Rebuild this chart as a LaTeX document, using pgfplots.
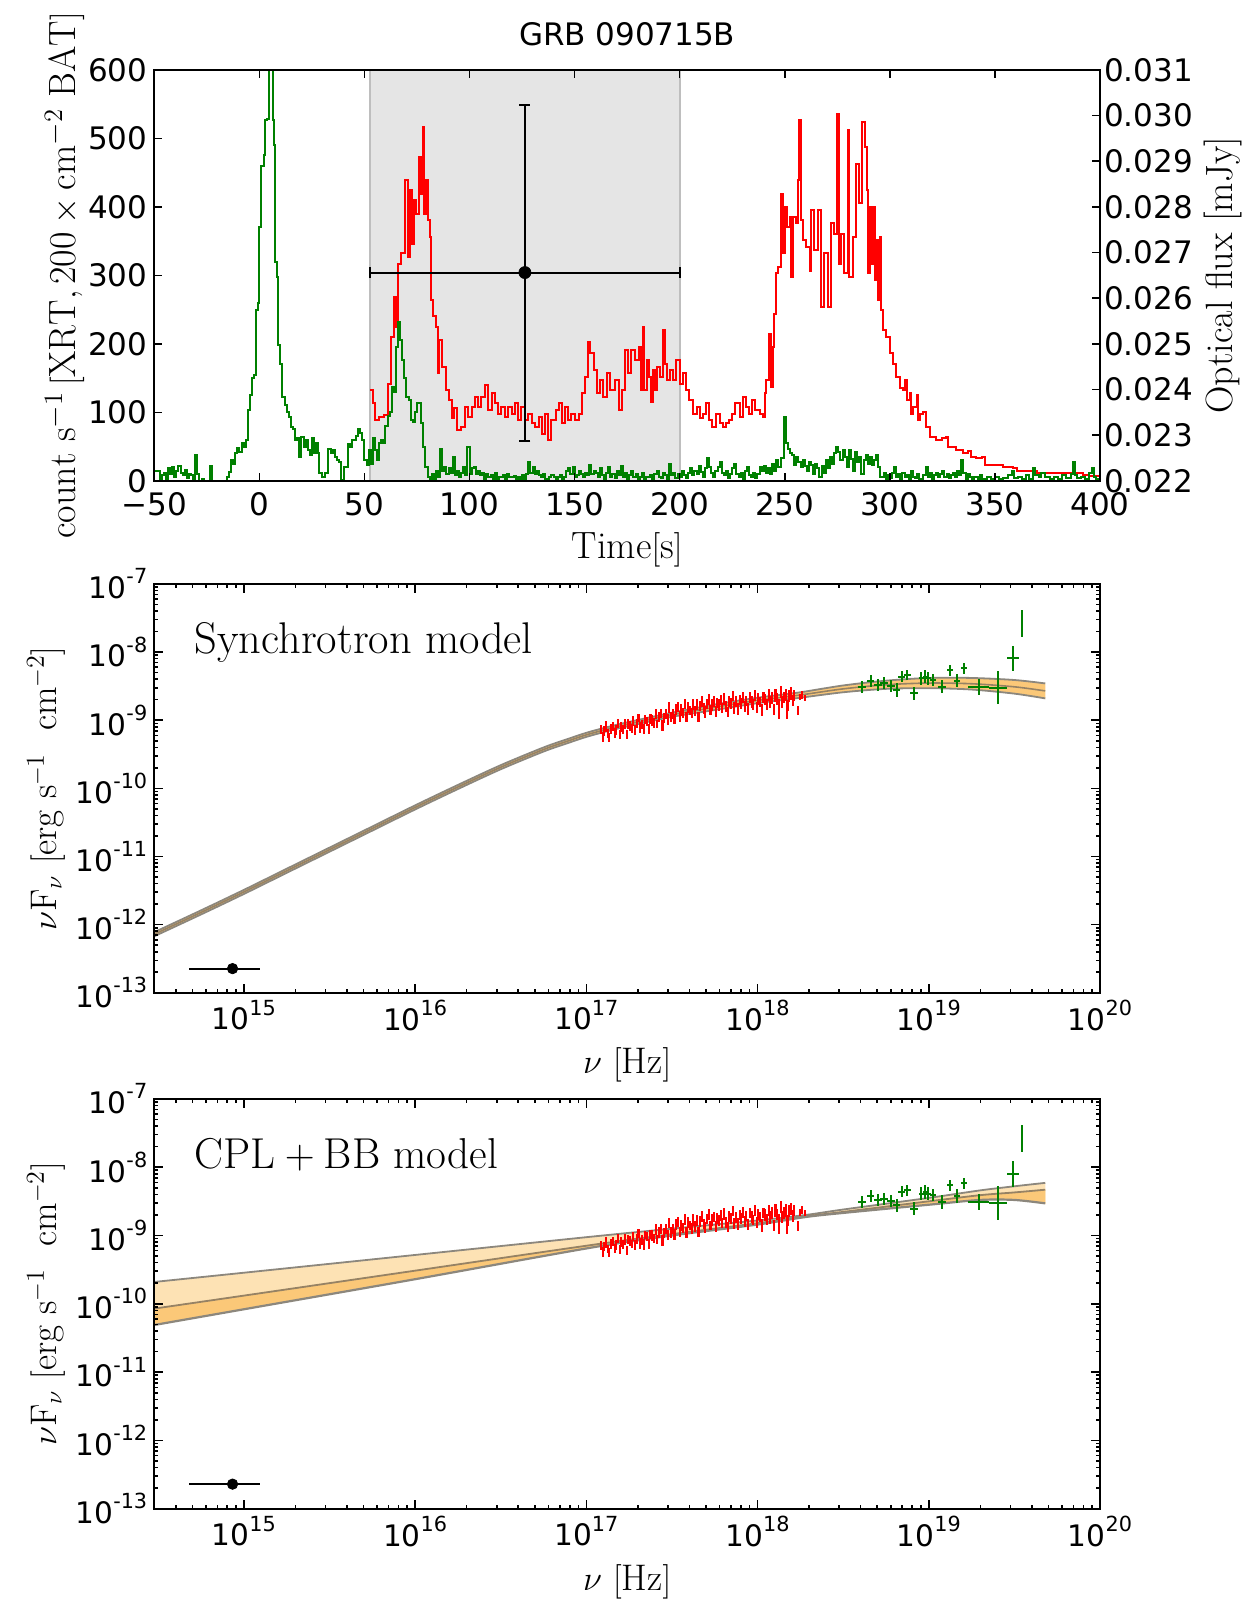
\documentclass[border=0pt]{standalone}
\usepackage{fontspec}
\usepackage{pgfplots}
\usepackage{pgfplotstable}
\pgfplotsset{compat=1.18}

\newfontfamily\dejavu{DejaVu Sans}
\definecolor{batgreen}{rgb}{0,0.5,0}
\definecolor{bandfill}{RGB}{251,200,120}
\definecolor{bandlight}{RGB}{253,226,180}
\definecolor{bandedge}{RGB}{140,135,125}
\definecolor{medline}{RGB}{150,130,100}
\definecolor{shade}{RGB}{229,229,229}
\definecolor{shadeedge}{RGB}{190,190,190}

\newcommand\tickfont{\dejavu\fontsize{15.5}{18}\selectfont}
\newcommand\sedtickfont{\dejavu\fontsize{14.8}{17}\selectfont}
\newcommand\labfont{\fontsize{19}{22}\selectfont}
\newcommand\sedlabfont{\fontsize{18.5}{22}\selectfont}
\newcommand\tp[1]{10\raisebox{0.5em}{\fontsize{10.4}{12}\selectfont #1}}

% ---------------- light curves ----------------
\pgfplotstableread{
t v
-50 15
-48.5 14
-47.5 0
-46.5 8
-45.5 12
-44.5 3
-43.5 18
-42.5 10
-41.5 20
-40.5 6
-39.5 14
-38.5 22
-37.5 12
-36.5 9
-35.5 16
-34.5 4
-33.5 10
-32.5 8
-31.5 0
-30.5 38
-29.5 10
-28.5 0
-27.5 2
-26.5 0
-23.5 21
-22.5 0
-15.5 5
-14.5 13
-13.5 30
-12.5 25
-11.5 40
-10.5 48
-9.5 42
-8.5 55
-7.5 50
-6.5 60
-5.5 103
-4.5 125
-3.5 150
-2.5 155
-1.5 250
-0.5 260
0 370
1 460
2 475
2.5 527
3.5 528
4.5 640
5.5 620
6.5 527
7 490
7.5 320
8.5 298
9 198
10 171
11 123
12 110
13 100
14 93
15 79
16 75
17 59
18 62
19 35
20 64
21 50
22 60
23 45
24 38
25 62
26 40
27 55
28 40
28.5 11
30 6
31 12
32.5 47
34 40
35 45
36 35
37 30
38 28
39 1
40.5 20
42 54
43 50
44 59
45 60
46 65
47 76
48 70
49 60
50 30
51 23
52 45
53 25
54 62
55 45
56 30
57 55
58 60
59 55
60 80
61 95
62 100
63 137
64 130
65 195
66 232
67 205
68 176
69 150
70 123
71 118
72 89
73 86
74 100
75 113
76 113
77 84
78 50
79 20
80 6
81 0
82 10
83 0
84 15
85 5
86 47
87 15
88 20
89 10
90 18
91 12
92 35
93 8
94 15
95 5
96 12
97 20
98 8
99 50
100 10
101 18
102 20
103 10
104 15
105 8
106 12
107 3
108 10
109 5
110 8
111 3
112 11
113 0
114 5
116 8
117 3
118 10
119 5
121 7
122 0
123 5
124 3
125 8
126 2
127 10
128 28
129 12
130 20
131 10
132 15
133 8
134 5
135 10
136 3
138 6
139 8
140 5
141 2
142 5
143 8
144 3
145 6
146 15
147 18
148 10
149 20
150 5
151 8
152 15
153 10
154 5
155 12
156 8
157 23
158 10
159 15
160 12
161 5
162 18
163 8
164 3
165 12
166 20
167 6
168 10
169 4
170 15
171 8
172 22
173 6
174 12
175 3
176 8
177 14
178 5
179 10
180 3
181 6
182 12
183 2
184 5
186 8
187 3
188 10
189 15
190 6
191 4
192 12
193 8
194 3
195 25
196 8
197 12
198 4
199 10
200 6
201 14
202 9
203 4
204 12
205 18
206 8
207 15
208 10
209 22
210 13
211 5
212 18
213 33
214 20
215 12
216 6
217 15
218 20
219 28
220 12
221 8
222 15
223 4
224 10
225 18
226 25
227 10
228 5
229 12
230 3
231 15
232 20
233 8
234 5
235 12
236 4
237 10
238 20
239 15
240 22
241 12
242 18
243 10
244 24
245 15
246 30
247 20
248 33
249.5 93
250.5 55
251.5 47
252.5 40
253.5 37
254.5 23
255.5 35
256.5 28
257.5 20
258.5 30
259.5 22
260.5 15
261.5 28
262.5 23
263.5 10
264.5 25
265.5 18
266.5 5
267.5 22
268.5 12
269.5 30
270.5 18
271.5 35
272.5 25
273.5 40
274.5 50
275.5 42
276.5 30
277.5 45
278.5 35
279.5 20
280.5 45
281.5 32
282.5 15
283.5 42
284.5 28
285.5 35
286.5 10
287.5 30
288.5 37
289.5 25
290.5 35
291.5 23
292.5 30
293.5 37
294.5 20
295.5 6
297 12
298 3
299 8
300 4
301 12
302 20
303 6
304 10
305 2
306 12
307 5
308 9
309 3
310 15
311 6
312 4
313 10
314 2
316 8
317 20
318 5
319 12
320 3
321 8
322 12
323 5
324 10
325 14
326 6
327 10
328 4
329 8
330 12
331 5
332 15
333 8
334 30
335 12
336 3
337 10
338 6
339 2
340 5
342 3
343 8
344 2
346 5
348 2
350 6
352 3
354 4
356 8
358 15
359 4
361 6
363 2
365 8
366 3
368 18
369 8
371 5
372 12
374 6
376 2
378 5
380 3
382 8
384 4
386 10
387 28
388 8
389 4
391 6
393 3
395 12
396 18
397 5
398 2
400 2
}\batlc

\pgfplotstableread{
t v
52.7 132
54 113
55 89
57 93
59.5 96
61 142
62.5 210
64 269
65 225
66 317
67.5 332
69.5 439
70.5 327
71.5 424
72.5 346
73.5 410
74.5 390
76 473
77 419
77.8 517
78.5 390
79.2 439
80 381
81 356
81.8 264
82.5 240
84 225
85 157
85.7 205
87 166
88.7 132
90.3 118
91.5 91
92.5 106
94 74
96 79
98 108
99.5 93
101 108
102.5 123
104 108
105.5 123
107.5 140
109 103
110.5 128
112 113
113.5 98
115 108
117 93
118.5 108
120 98
121.5 113
123 89
124.5 108
126.5 89
128 98
129.5 84
131 79
133 93
134.5 69
136 98
137.5 59
139 89
141 103
142.5 113
144 84
145.5 108
147 89
148.5 98
150 89
152 98
153.5 128
155 152
156.5 203
157.5 186
159 162
160.5 128
162 147
163.5 123
165.5 157
167 132
169 147
171 103
172.5 132
174 191
175.5 157
177 191
178.5 176
180.5 196
181.7 132
182.5 225
183.2 132
184.5 176
185.5 152
186.5 115
187.5 162
188.3 132
189.3 166
190.5 152
192 220
192.8 171
193.8 147
195.3 162
196.8 147
198.3 176
200 142
201.5 157
203 132
204.5 118
206.5 98
208 108
209.5 91
211 98
212.5 113
214 89
215.5 79
217.5 98
219 84
220.5 79
222 84
223.5 89
225 98
226.5 113
228.5 93
230 123
231.5 108
233 98
234.5 118
236 103
238 98
239.5 93
240.5 128
241.2 147
242.5 215
243.5 137
244.5 196
245 244
246 303
247 312
248.3 419
249 332
250 400
251 371
252.3 385
253.2 298
254 385
255.5 376
256.3 439
257 527
257.8 381
258.6 351
260 342
261.8 307
262.6 395
264 337
265.8 395
267.3 254
268.5 332
270.5 254
272 376
273.5 361
274.8 536
275.6 317
276.6 361
278.4 303
280 512
280.7 298
282.4 356
284 463
285.5 405
286.8 524
288 488
289 424
289.6 303
290.4 400
291.2 317
292 400
292.8 293
293.5 351
294.3 264
295.2 356
296 250
296.8 220
298.4 210
300 186
301.5 171
303 152
304.8 135
306.3 132
307 147
308 118
309.5 128
310.3 98
311.2 108
312.7 125
313.5 89
314.3 98
316 101
317.4 79
319 64
322 59
325 62
326.8 64
327.8 50
331.5 45
334.7 40
337.2 43
338.8 35
341 33
344 35
345.2 23
354 20
358.7 19
360.3 15
369.8 12
376 11
392 8
395 7
400 7
}\xrtlc

% ---------------- spectra (log10 nu, log10 nuFnu) ----------------
\pgfplotstableread{
lx ly ey ex
17.085 -9.142 0.065 0.004
17.095 -9.242 0.075 0.004
17.105 -9.162 0.070 0.004
17.115 -9.097 0.080 0.004
17.125 -9.197 0.065 0.004
17.135 -9.251 0.070 0.004
17.145 -9.126 0.075 0.004
17.155 -9.091 0.065 0.004
17.165 -9.191 0.070 0.004
17.175 -9.141 0.075 0.004
17.185 -9.046 0.070 0.004
17.195 -9.205 0.065 0.004
17.205 -9.095 0.075 0.004
17.215 -9.135 0.070 0.004
17.225 -9.055 0.080 0.004
17.235 -9.215 0.065 0.004
17.245 -9.059 0.070 0.004
17.255 -9.084 0.075 0.004
17.265 -9.124 0.065 0.004
17.275 -9.014 0.070 0.004
17.285 -9.144 0.075 0.004
17.295 -9.049 0.070 0.004
17.305 -8.968 0.065 0.004
17.315 -9.113 0.080 0.004
17.325 -9.063 0.070 0.004
17.335 -9.133 0.075 0.004
17.345 -8.993 0.065 0.004
17.355 -9.016 0.070 0.004
17.365 -9.127 0.075 0.004
17.375 -8.984 0.070 0.004
17.385 -9.006 0.080 0.004
17.395 -9.042 0.070 0.004
17.405 -8.914 0.075 0.004
17.415 -9.055 0.065 0.004
17.425 -8.957 0.075 0.004
17.435 -8.904 0.070 0.004
17.445 -9.075 0.080 0.004
17.455 -8.962 0.075 0.004
17.465 -8.908 0.070 0.004
17.475 -8.990 0.075 0.004
17.485 -8.817 0.080 0.004
17.495 -8.958 0.075 0.004
17.505 -8.905 0.070 0.004
17.515 -8.986 0.075 0.004
17.525 -8.843 0.080 0.004
17.535 -8.804 0.070 0.004
17.545 -8.947 0.075 0.004
17.555 -8.852 0.085 0.004
17.565 -8.892 0.070 0.004
17.575 -8.767 0.075 0.004
17.585 -8.956 0.075 0.004
17.595 -8.816 0.080 0.004
17.605 -8.856 0.070 0.004
17.615 -8.896 0.075 0.004
17.625 -8.770 0.085 0.004
17.635 -8.870 0.075 0.004
17.645 -8.775 0.080 0.004
17.655 -8.949 0.070 0.004
17.665 -8.794 0.075 0.004
17.675 -8.729 0.080 0.004
17.685 -8.829 0.075 0.004
17.695 -8.883 0.085 0.004
17.705 -8.758 0.075 0.004
17.715 -8.693 0.080 0.004
17.725 -8.853 0.070 0.004
17.735 -8.774 0.085 0.004
17.745 -8.727 0.075 0.004
17.755 -8.875 0.080 0.004
17.765 -8.753 0.075 0.004
17.775 -8.781 0.085 0.004
17.785 -8.704 0.080 0.004
17.795 -8.822 0.075 0.004
17.805 -8.685 0.085 0.004
17.815 -8.804 0.080 0.004
17.825 -8.877 0.075 0.004
17.835 -8.725 0.085 0.004
17.845 -8.753 0.080 0.004
17.855 -8.646 0.075 0.004
17.865 -8.824 0.085 0.004
17.875 -8.732 0.080 0.004
17.885 -8.835 0.085 0.004
17.895 -8.698 0.075 0.004
17.905 -8.756 0.080 0.004
17.915 -8.664 0.085 0.004
17.925 -8.797 0.080 0.004
17.935 -8.720 0.075 0.004
17.945 -8.838 0.085 0.004
17.955 -8.671 0.080 0.004
17.965 -8.729 0.090 0.004
17.975 -8.773 0.080 0.004
17.985 -8.636 0.085 0.004
17.995 -8.814 0.080 0.004
18.005 -8.692 0.085 0.004
18.015 -8.735 0.075 0.004
18.025 -8.853 0.090 0.004
18.035 -8.671 0.080 0.004
18.045 -8.699 0.085 0.004
18.055 -8.771 0.080 0.004
18.065 -8.633 0.085 0.004
18.075 -8.735 0.090 0.004
18.085 -8.672 0.085 0.004
18.095 -8.849 0.080 0.004
18.105 -8.636 0.090 0.004
18.115 -8.693 0.085 0.004
18.125 -8.765 0.080 0.004
18.135 -8.582 0.090 0.004
18.145 -8.730 0.085 0.004
18.155 -8.667 0.085 0.004
18.165 -8.634 0.090 0.004
18.175 -8.781 0.080 0.004
18.185 -8.643 0.085 0.004
18.195 -8.610 0.090 0.004
18.205 -8.712 0.085 0.004
18.215 -8.640 0.080 0.005
18.127 -8.910 0.070 0.005
18.170 -8.920 0.065 0.005
18.235 -8.860 0.070 0.006
18.250 -8.660 0.050 0.006
18.262 -8.630 0.060 0.006
18.277 -8.670 0.045 0.008
}\xrtsed

\pgfplotstableread{
lx ly ex ey
18.609 -8.508 0.023 0.088
18.660 -8.420 0.023 0.088
18.701 -8.484 0.023 0.088
18.740 -8.459 0.023 0.088
18.779 -8.498 0.023 0.088
18.812 -8.557 0.020 0.098
18.843 -8.361 0.020 0.080
18.874 -8.337 0.020 0.080
18.913 -8.606 0.025 0.100
18.956 -8.386 0.015 0.100
18.979 -8.361 0.015 0.100
18.998 -8.386 0.015 0.100
19.025 -8.410 0.018 0.090
19.078 -8.508 0.025 0.100
19.123 -8.264 0.018 0.080
19.165 -8.420 0.018 0.100
19.208 -8.239 0.018 0.080
19.291 -8.508 0.062 0.120
19.404 -8.523 0.050 0.245
19.491 -8.094 0.036 0.190
19.546 -7.580 0.004 0.200
}\batsed

% synchrotron model: lower, median and upper curves
\pgfplotstableread{
lx lo mid hi
14.477 -12.17 -12.14 -12.11
14.75 -11.85 -11.82 -11.79
15.0 -11.55 -11.52 -11.49
15.25 -11.24 -11.21 -11.18
15.5 -10.93 -10.90 -10.87
15.75 -10.62 -10.59 -10.56
16.0 -10.31 -10.28 -10.25
16.25 -10.01 -9.98 -9.95
16.5 -9.72 -9.69 -9.66
16.75 -9.46 -9.43 -9.40
16.875 -9.35 -9.32 -9.29
17.0 -9.245 -9.215 -9.185
17.125 -9.16 -9.13 -9.10
17.25 -9.085 -9.055 -9.025
17.5 -8.95 -8.92 -8.89
17.75 -8.85 -8.81 -8.77
18.0 -8.75 -8.71 -8.67
18.25 -8.67 -8.63 -8.59
18.5 -8.59 -8.54 -8.49
18.75 -8.54 -8.48 -8.42
19.0 -8.53 -8.455 -8.38
19.25 -8.55 -8.465 -8.38
19.5 -8.61 -8.51 -8.41
19.68 -8.68 -8.57 -8.46
}\syncband

% outline of the synchrotron band (upper edge out, lower edge back)
\pgfplotstableread{
lx ly
14.477 -12.11
14.75 -11.79
15.0 -11.49
15.25 -11.18
15.5 -10.87
15.75 -10.56
16.0 -10.25
16.25 -9.95
16.5 -9.66
16.75 -9.40
16.875 -9.29
17.0 -9.185
17.125 -9.10
17.25 -9.025
17.5 -8.89
17.75 -8.77
18.0 -8.67
18.25 -8.59
18.5 -8.49
18.75 -8.42
19.0 -8.38
19.25 -8.38
19.5 -8.41
19.67 -8.457
19.68 -8.46
19.68 -8.68
19.67 -8.676
19.5 -8.61
19.25 -8.55
19.0 -8.53
18.75 -8.54
18.5 -8.59
18.25 -8.67
18.0 -8.75
17.75 -8.85
17.5 -8.95
17.25 -9.085
17.125 -9.16
17.0 -9.245
16.875 -9.35
16.75 -9.46
16.5 -9.72
16.25 -10.01
16.0 -10.31
15.75 -10.62
15.5 -10.93
15.25 -11.24
15.0 -11.55
14.75 -11.85
14.477 -12.17
}\syncpoly

% CPL+BB model: upper, median and lower curves
\pgfplotstableread{
lx hi mid lo
14.477 -9.68 -10.07 -10.31
15.0 -9.545 -9.88 -10.08
16.0 -9.285 -9.515 -9.64
17.0 -9.025 -9.15 -9.19
17.5 -8.90 -8.98 -9.00
18.0 -8.78 -8.82 -8.84
18.28 -8.70 -8.72 -8.73
18.5 -8.62 -8.655 -8.67
19.0 -8.45 -8.50 -8.55
19.3 -8.34 -8.41 -8.48
19.5 -8.28 -8.37 -8.48
19.68 -8.23 -8.33 -8.53
}\cplband

\pgfplotstableread{
lx ly
14.477 -9.68
15.0 -9.545
16.0 -9.285
17.0 -9.025
17.5 -8.90
18.0 -8.78
18.28 -8.70
18.5 -8.62
19.0 -8.45
19.3 -8.34
19.5 -8.28
19.67 -8.233
19.68 -8.23
19.68 -8.53
19.67 -8.526
19.5 -8.48
19.3 -8.48
19.0 -8.55
18.5 -8.67
18.28 -8.73
18.0 -8.84
17.5 -9.00
17.0 -9.19
16.0 -9.64
15.0 -10.08
14.477 -10.31
}\cplouter

\pgfplotstableread{
lx ly
14.477 -10.07
15.0 -9.88
16.0 -9.515
17.0 -9.15
17.5 -8.98
18.0 -8.82
18.28 -8.72
18.5 -8.655
19.0 -8.50
19.3 -8.41
19.5 -8.37
19.67 -8.333
19.68 -8.33
19.68 -8.53
19.67 -8.526
19.5 -8.48
19.3 -8.48
19.0 -8.55
18.5 -8.67
18.28 -8.73
18.0 -8.84
17.5 -9.00
17.0 -9.19
16.0 -9.64
15.0 -10.08
14.477 -10.31
}\cplinner

\pgfplotsset{
  common/.style={
    scale only axis, width=472.85pt, anchor=north west,
    axis on top, tick align=inside, scaled ticks=false,
    axis line style={line width=1pt},
    every tick/.style={black, line width=0.8pt},
    major tick length=4.5pt, minor tick length=2pt,
    tick label style={font=\tickfont},
  },
  sed/.style={
    common,
    tick label style={font=\sedtickfont},
    xmin=14.477, xmax=20, ymin=-13, ymax=-7,
    xtick={15,16,17,18,19,20},
    xticklabels={\tp{15},\tp{16},\tp{17},\tp{18},\tp{19},\tp{20}},
    ytick={-13,-12,-11,-10,-9,-8,-7},
    yticklabels={\tp{-13},\tp{-12},\tp{-11},\tp{-10},\tp{-9},\tp{-8},\tp{-7}},
    minor xtick={14.602,14.699,14.778,14.845,14.903,14.954,
      15.301,15.477,15.602,15.699,15.778,15.845,15.903,15.954,
      16.301,16.477,16.602,16.699,16.778,16.845,16.903,16.954,
      17.301,17.477,17.602,17.699,17.778,17.845,17.903,17.954,
      18.301,18.477,18.602,18.699,18.778,18.845,18.903,18.954,
      19.301,19.477,19.602,19.699,19.778,19.845,19.903,19.954},
    minor ytick={-12.699,-12.523,-12.398,-12.301,-12.222,-12.155,-12.097,-12.046,
      -11.699,-11.523,-11.398,-11.301,-11.222,-11.155,-11.097,-11.046,
      -10.699,-10.523,-10.398,-10.301,-10.222,-10.155,-10.097,-10.046,
      -9.699,-9.523,-9.398,-9.301,-9.222,-9.155,-9.097,-9.046,
      -8.699,-8.523,-8.398,-8.301,-8.222,-8.155,-8.097,-8.046,
      -7.699,-7.523,-7.398,-7.301,-7.222,-7.155,-7.097,-7.046},
    xlabel={$\nu\ \mathrm{[Hz]}$},
    ylabel={$\nu\mathrm{F}_\nu\ \mathrm{[erg\ s^{-1}\ \ cm^{-2}]}$},
    every axis y label/.style={at={(axis description cs:-0.1036,0.5)}, rotate=90, anchor=base, font=\sedlabfont},
  },
  nomark/.style={only marks, mark=*, mark size=0.01pt, mark options={draw=none, fill=none}},
  xrtbars/.style={nomark, red,
    error bars/.cd, y dir=both, y explicit, x dir=both, x explicit,
    error mark=none, error bar style={red, line width=1.05pt}},
  batbars/.style={nomark, batgreen,
    error bars/.cd, y dir=both, y explicit, x dir=both, x explicit,
    error mark=none, error bar style={batgreen, line width=1pt}},
  optbar/.style={black, mark=*, mark size=2.6pt,
    error bars/.cd, x dir=both, x explicit,
    error mark=none, error bar style={black, line width=1pt}},
}

\begin{document}
\begin{tikzpicture}
% page frame
\path (0,0) rectangle (628pt,-808.5pt);

% ---------- light curves: counts on the left scale ----------
\begin{axis}[common,
  at={(77.15pt,-34.9pt)}, height=205.5pt,
  xmin=-50, xmax=400, ymin=0, ymax=600,
  xtick={-50,0,50,100,150,200,250,300,350,400},
  xticklabels={−50,0,50,100,150,200,250,300,350,400},
  ytick={0,100,200,300,400,500,600},
  yticklabels={0,100,200,300,400,500,600},
  ytick pos=left, major tick length=4pt,
  xticklabel style={yshift=-2.5pt},
  title={GRB 090715B},
  title style={font=\tickfont, at={(0.5,1)}, anchor=base, yshift=6.4pt},
  xlabel={$\mathrm{Time[s]}$},
  every axis x label/.style={at={(axis description cs:0.5,0)}, anchor=base, yshift=-38.6pt, font=\labfont},
  ylabel={$\mathrm{count\ s^{-1}\,[XRT,200\times cm^{-2}\ BAT]}$},
  every axis y label/.style={at={(axis description cs:-0.0833,0.5)}, rotate=90, anchor=base, font=\labfont},
]
\addplot[fill=shade, draw=none] coordinates {(52.7,0) (52.7,600) (200,600) (200,0)};
\addplot[shadeedge, line width=0.9pt] coordinates {(52.7,0) (52.7,600)};
\addplot[shadeedge, line width=0.9pt] coordinates {(200,0) (200,600)};
\addplot[const plot, red, line width=1pt] table[x=t, y=v] {\xrtlc};
\addplot[const plot, batgreen, line width=1pt] table[x=t, y=v] {\batlc};
\end{axis}

% ---------- optical flux on the right scale ----------
\begin{axis}[common,
  at={(77.15pt,-34.9pt)}, height=205.5pt,
  xmin=-50, xmax=400, ymin=0.022, ymax=0.031,
  xtick=\empty,
  ytick={0.022,0.023,0.024,0.025,0.026,0.027,0.028,0.029,0.030,0.031},
  yticklabels={0.022,0.023,0.024,0.025,0.026,0.027,0.028,0.029,0.030,0.031},
  ytick pos=right, yticklabel pos=right, major tick length=4pt,
  yticklabel style={xshift=-1.5pt},
  ylabel={Optical flux [mJy]},
  every axis y label/.style={at={(axis description cs:1.1402,0.5)}, rotate=90, anchor=base, font=\labfont},
]
\addplot[black, mark=*, mark size=3pt,
  error bars/.cd, x dir=both, x explicit, y dir=both, y explicit,
  error bar style={black, line width=1pt},
  error mark options={rotate=90, mark size=2.75pt, line width=1pt, black}]
  coordinates {(126.35,0.02656) +- (73.65,0.00368)};
\end{axis}

% ---------- synchrotron model ----------
\begin{axis}[sed,
  at={(77.15pt,-291.95pt)}, height=204.45pt,
  every axis x label/.style={at={(axis description cs:0.5,0)}, anchor=base, yshift=-40.35pt, font=\sedlabfont},
]
\addplot[fill=bandfill, draw=none, smooth] table[x=lx, y=ly] {\syncpoly};
\addplot[bandedge, line width=0.9pt, smooth] table[x=lx, y=hi] {\syncband};
\addplot[bandedge, line width=0.9pt, smooth] table[x=lx, y=lo] {\syncband};
\addplot[medline, line width=0.8pt, smooth] table[x=lx, y=mid] {\syncband};
\addplot[xrtbars] table[x=lx, y=ly, x error=ex, y error=ey] {\xrtsed};
\addplot[batbars] table[x=lx, y=ly, x error=ex, y error=ey] {\batsed};
\addplot[optbar] coordinates {(14.934,-12.645) += (0.159,0) -= (0.253,0)};
\node[anchor=base west, xshift=16.7pt, yshift=-35pt, font=\fontsize{22.2}{26}\selectfont]
  at (rel axis cs:0,1) {Synchrotron model};
\end{axis}

% ---------- CPL + BB model ----------
\begin{axis}[sed,
  at={(77.15pt,-549.4pt)}, height=205pt,
  every axis x label/.style={at={(axis description cs:0.5,0)}, anchor=base, yshift=-40.85pt, font=\sedlabfont},
]
\addplot[fill=bandlight, draw=none, smooth] table[x=lx, y=ly] {\cplouter};
\addplot[fill=bandfill, draw=none, smooth] table[x=lx, y=ly] {\cplinner};
\addplot[bandedge, line width=0.9pt, smooth] table[x=lx, y=hi] {\cplband};
\addplot[medline, line width=0.9pt, smooth] table[x=lx, y=mid] {\cplband};
\addplot[bandedge, line width=1.1pt, smooth] table[x=lx, y=lo] {\cplband};
\addplot[xrtbars] table[x=lx, y=ly, x error=ex, y error=ey] {\xrtsed};
\addplot[batbars] table[x=lx, y=ly, x error=ex, y error=ey] {\batsed};
\addplot[optbar] coordinates {(14.934,-12.639) += (0.159,0) -= (0.253,0)};
\node[anchor=base west, xshift=16.7pt, yshift=-34.8pt, font=\fontsize{21.6}{26}\selectfont]
  at (rel axis cs:0,1) {$\mathrm{CPL+BB}$ model};
\end{axis}
\end{tikzpicture}
\end{document}
